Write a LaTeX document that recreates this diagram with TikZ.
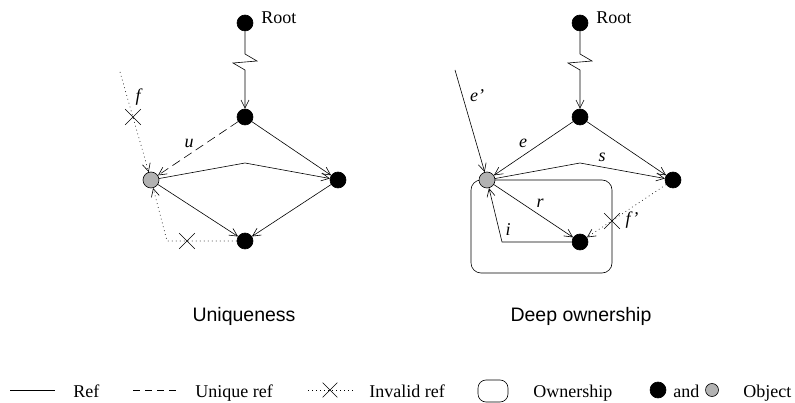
\documentclass[tikz,border=0pt]{standalone}
\usepackage{fontspec}
\setmainfont{Liberation Serif}
\setsansfont{Liberation Sans}
\usetikzlibrary{arrows.meta,shapes.misc}

\tikzset{
  obj/.style={circle, draw, fill=black, minimum size=16pt, inner sep=0pt},
  gobj/.style={obj, fill=black!30},
  ref/.style={-{Straight Barb[length=8pt,width=8pt]}},
  uref/.style={ref, dash pattern=on 9pt off 5pt},
  bad/.style={ref, dash pattern=on 0.8pt off 3.2pt},
  xmark/.style={cross out, draw, minimum size=15pt, inner sep=0pt},
  txt/.style={font=\fontsize{18}{20}\selectfont, inner sep=0pt},
  lbl/.style={font=\fontsize{18}{20}\selectfont\itshape, inner sep=0pt},
  title/.style={font=\fontsize{19.5}{22}\sffamily\selectfont, inner sep=0pt},
}

\begin{document}
\begin{tikzpicture}[x=1pt, y=-1pt, line width=0.6pt]
\useasboundingbox (0,0) rectangle (795,403);

% ownership box (behind the nodes)
\draw[rounded corners=10pt] (471,180) rectangle (612,273);

% uniqueness
\node[obj] (r1) at (245,23) {};
\node[txt, anchor=base west] (root1) at (261,24) {Root};
\node[obj] (a1) at (245,117) {};
\node[obj] (b1) at (338,180) {};
\node[obj] (c1) at (245,241) {};
\node[gobj] (g1) at (151,180) {};
\coordinate (k1) at (245,163);
\coordinate (f1) at (120,72);
\coordinate (d1) at (167,241);

\draw[ref] (r1) -- (245,54) -- (257,61) -- (233,63) -- (245,70) -- (a1);
\draw[uref] (a1) -- (g1);
\draw[ref] (a1) -- (b1);
\draw[ref] (g1) -- (k1) -- (b1);
\draw[ref] (g1) -- (c1);
\draw[ref] (b1) -- (c1);
\draw[bad] (f1) -- (g1);
\draw[bad] (c1) -- (d1) -- (g1);
\node[xmark] (x1) at (133,117) {};
\node[xmark] (x2) at (187,241) {};
\node[lbl] (lu) at (189,143) {u};
\node[lbl] (lf) at (138,97) {f};
\node[title, anchor=base] (t1) at (244,322) {Uniqueness};

% deep ownership
\node[obj] (r2) at (580,23) {};
\node[txt, anchor=base west] (root2) at (596,24) {Root};
\node[obj] (a2) at (580,117) {};
\node[obj] (b2) at (673,180) {};
\node[obj] (c2) at (580,242) {};
\node[gobj] (g2) at (487,180) {};
\coordinate (k2) at (580,163);
\coordinate (e2) at (455,70);
\coordinate (i2) at (502,242);

\draw[ref] (r2) -- (580,54) -- (592,61) -- (568,63) -- (580,70) -- (a2);
\draw[ref] (e2) -- (g2);
\draw[ref] (a2) -- (g2);
\draw[ref] (a2) -- (b2);
\draw[ref] (g2) -- (k2) -- (b2);
\draw[ref] (g2) -- (c2);
\draw[ref] (c2) -- (i2) -- (g2);
\draw[bad] (b2) -- (c2);
\node[xmark] (x3) at (612,221) {};
\node[lbl] (le2) at (477,96) {e'};
\node[lbl] (le) at (523,143) {e};
\node[lbl] (ls) at (602,157) {s};
\node[lbl] (lr) at (540,203) {r};
\node[lbl] (li) at (508,230) {i};
\node[lbl] (lf2) at (632,220) {f'};
\node[title, anchor=base] (t2) at (581,322) {Deep ownership};

% legend
\draw (10,390) -- (55,390);
\node[txt, anchor=base west] (k-ref) at (73,397) {Ref};
\draw[dash pattern=on 7pt off 5pt] (133,390) -- (176,390);
\node[txt, anchor=base west] (k-uref) at (195,397) {Unique ref};
\draw[dash pattern=on 0.8pt off 3.2pt] (308,390) -- (353,390);
\node[xmark, minimum size=14pt] (k-x) at (330,390) {};
\node[txt, anchor=base west] (k-bad) at (369,397) {Invalid ref};
\draw[rounded corners=8pt] (478,380) rectangle (508,402);
\node[txt, anchor=base west] (k-own) at (533,397) {Ownership};
\node[obj] (k-obj) at (658,390) {};
\node[txt, anchor=base west] (k-and) at (673,397) {and};
\node[gobj, minimum size=13pt] (k-gobj) at (712,390) {};
\node[txt, anchor=base west] (k-o) at (743,397) {Object};
\end{tikzpicture}
\end{document}
